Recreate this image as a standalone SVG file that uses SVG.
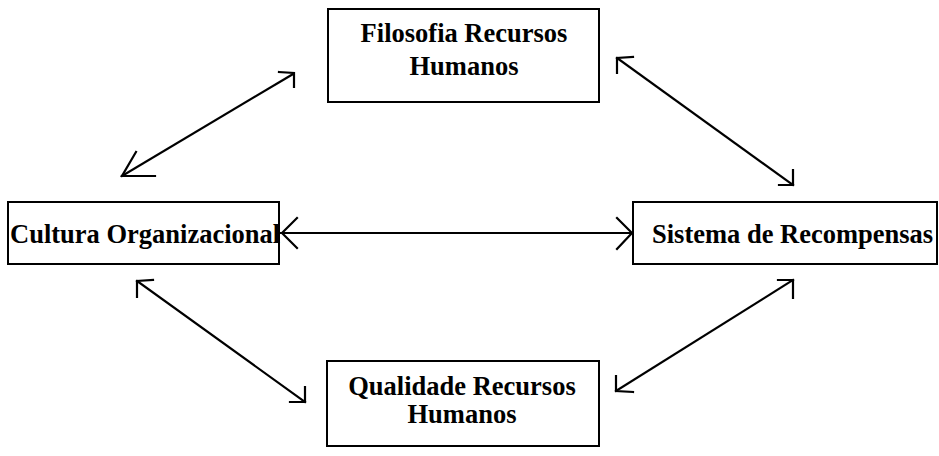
<svg xmlns="http://www.w3.org/2000/svg" width="939" height="456" viewBox="0 0 939 456">
<style>
.box{fill:#fff;stroke:#000;stroke-width:2}
.lbl{font-family:"Liberation Serif","Times New Roman",serif;font-weight:bold;font-size:26.5px;fill:#000}
.ln{fill:none;stroke:#000;stroke-width:2.2;stroke-linecap:square}
</style>
<rect width="939" height="456" fill="#fff"/>
<g id="connectors">
<line class="ln" x1="122" y1="176" x2="293" y2="74"/>
<polyline class="ln" points="155,176 122,176 136,152"/>
<polyline class="ln" points="279,72 294,73 294,87"/>
<line class="ln" x1="617" y1="58" x2="793" y2="185"/>
<polyline class="ln" points="633,57 617,58 617,73"/>
<polyline class="ln" points="779,185 793,185 793,170"/>
<line class="ln" x1="281" y1="233" x2="632" y2="233"/>
<polyline class="ln" points="297,218 282,233 297,248"/>
<polyline class="ln" points="617,218 632,233 617,249"/>
<line class="ln" x1="137" y1="281" x2="305" y2="402"/>
<polyline class="ln" points="153,280 137,281 137,297"/>
<polyline class="ln" points="290,402 305,402 305,387"/>
<line class="ln" x1="616" y1="391" x2="793" y2="280"/>
<polyline class="ln" points="778,280 793,280 793,298"/>
<polyline class="ln" points="633,392 616,391 616,376"/>
</g>
<g id="filosofia">
<rect class="box" x="328" y="9" width="271" height="93"/>
<text class="lbl" x="464" y="42" text-anchor="middle">Filosofia Recursos</text>
<text class="lbl" x="464" y="75" text-anchor="middle">Humanos</text>
</g>
<g id="cultura">
<rect class="box" x="8" y="202" width="271" height="62"/>
<text class="lbl" x="10" y="243">Cultura Organizacional</text>
</g>
<g id="sistema">
<rect class="box" x="633" y="202" width="304" height="62"/>
<text class="lbl" x="652" y="243">Sistema de Recompensas</text>
</g>
<g id="qualidade">
<rect class="box" x="327" y="361" width="272" height="85"/>
<text class="lbl" x="462" y="395" text-anchor="middle">Qualidade Recursos</text>
<text class="lbl" x="462" y="423" text-anchor="middle">Humanos</text>
</g>
</svg>
